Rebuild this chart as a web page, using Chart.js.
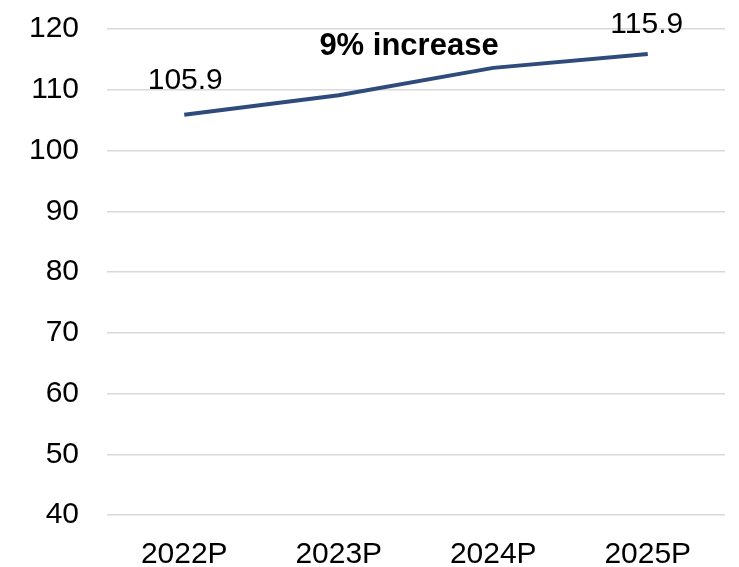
<!DOCTYPE html>
<html>
<head>
<meta charset="utf-8">
<script src="https://cdn.jsdelivr.net/npm/chart.js@4"></script>
<style>
	html, body { margin: 0; padding: 0; background: #fff; }
	#wrap { width: 739px; height: 567px; }
</style>
</head>
<body>
<div id="wrap"><canvas id="growth-chart"></canvas></div>
<script>
	const years = ['2022P', '2023P', '2024P', '2025P'];
	const values = [105.9, 109.1, 113.6, 115.9];
	const yTicks = [40, 50, 60, 70, 80, 90, 100, 110, 120];
	const headline = '9% increase';

	const FONT = '"Liberation Sans", Arial, sans-serif';

	// labels at the first and last points, plus the headline text
	const labelsPlugin = {
		id: 'labels',
		afterDatasetsDraw(chart) {
			const ctx = chart.ctx;
			const pts = chart.getDatasetMeta(0).data;
			const last = pts.length - 1;
			ctx.save();
			ctx.fillStyle = '#000';
			ctx.textAlign = 'center';
			ctx.textBaseline = 'alphabetic';
			ctx.font = '30px ' + FONT;
			ctx.fillText(values[0].toFixed(1), pts[0].x + 1, pts[0].y - 26);
			ctx.fillText(values[last].toFixed(1), pts[last].x - 1, pts[last].y - 21);
			ctx.font = 'bold 31px ' + FONT;
			const midX = (pts[1].x + pts[2].x) / 2;
			ctx.fillText(headline, midX - 7, 55);
			ctx.restore();
		},
	};

	const config = {
		type: 'line',
		data: {
			labels: years,
			datasets: [
				{
					data: values,
					borderColor: '#2f4b7c',
					borderWidth: 4,
					pointRadius: 0,
					tension: 0,
					fill: false,
				},
			],
		},
		options: {
			responsive: true,
			maintainAspectRatio: false,
			animation: false,
			layout: { padding: { top: 29, right: 14, left: 0, bottom: 0 } },
			plugins: {
				legend: { display: false },
				tooltip: { enabled: false },
			},
			scales: {
				x: {
					offset: true,
					grid: { display: false, drawTicks: false },
					border: { display: false },
					ticks: {
						color: '#000',
						font: { family: FONT, size: 30 },
						padding: 22,
						maxRotation: 0,
					},
					afterFit(scale) {
						scale.height = 52;
						scale.paddingLeft = 0;
						scale.paddingRight = 0;
					},
				},
				y: {
					min: 40,
					max: 120,
					afterBuildTicks(scale) {
						scale.ticks = yTicks.map((v) => ({ value: v }));
					},
					grid: { color: '#d9d9d9', lineWidth: 1.5, drawTicks: false },
					border: { display: false },
					ticks: {
						color: '#000',
						font: { family: FONT, size: 30 },
						padding: 28,
					},
					afterFit(scale) {
						scale.width = 107;
						scale.paddingTop = 0;
						scale.paddingBottom = 0;
					},
				},
			},
		},
		plugins: [labelsPlugin],
	};

	new Chart(document.getElementById('growth-chart'), config);
</script>
</body>
</html>
